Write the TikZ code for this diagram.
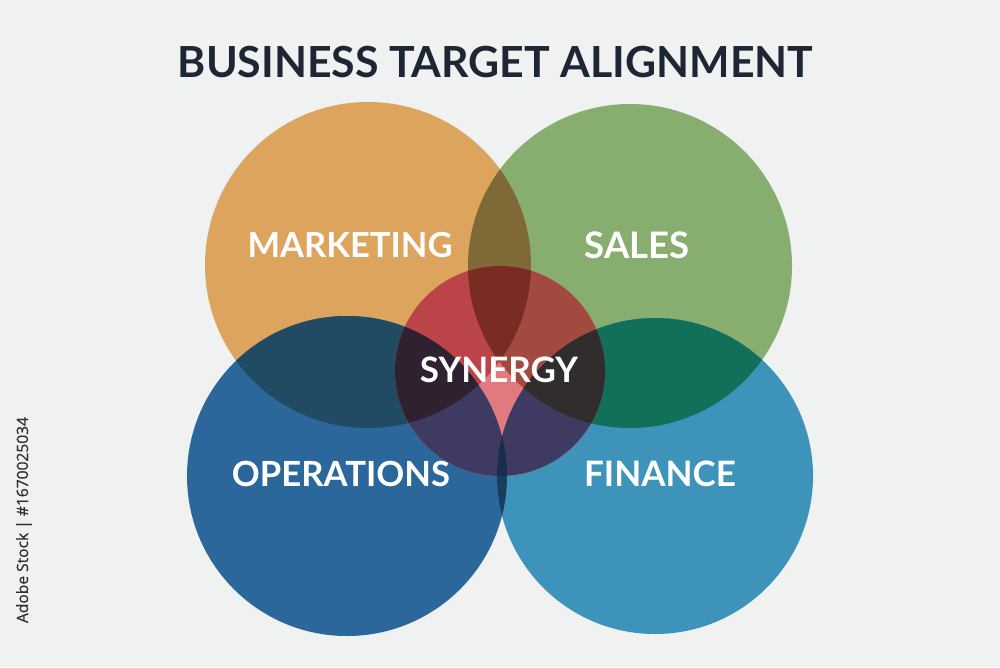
\documentclass[tikz,border=0pt]{standalone}
\usepackage{fontspec}
\setmainfont{Lato}
\newfontfamily\wmfont{Open Sans}
\usepackage{graphicx}
\definecolor{bgc}{HTML}{F0F1F1}
\definecolor{titlec}{HTML}{1D2634}
\definecolor{cM}{HTML}{DDA45D}
\definecolor{cS}{HTML}{87AD6F}
\definecolor{cO}{HTML}{2B679B}
\definecolor{cF}{HTML}{3D93BA}
\definecolor{cMS}{HTML}{7F6A37}
\definecolor{cMO}{HTML}{214B63}
\definecolor{cSF}{HTML}{12705A}
\definecolor{cOF}{HTML}{173E5C}
\definecolor{cY}{HTML}{E07A7E}
\definecolor{cYM}{HTML}{BA4448}
\definecolor{cYS}{HTML}{A24A40}
\definecolor{cYMS}{HTML}{7A2C22}
\definecolor{cYO}{HTML}{3E3A62}
\definecolor{cYF}{HTML}{3E3A62}
\definecolor{cYMO}{HTML}{2F2130}
\definecolor{cYSF}{HTML}{302D2C}
\definecolor{cYOF}{HTML}{1C2C4C}
\definecolor{wmc}{HTML}{2E2E2E}
\begin{document}
\begin{tikzpicture}[x=1pt,y=-1pt,
  lbl/.style={text=white,font=\bfseries,inner sep=0pt,anchor=center}]
\useasboundingbox (0,0) rectangle (1000,667);
\fill[bgc] (0,0) rectangle (1000,667);
\coordinate (mC) at (368,265);
\coordinate (sC) at (630,266);
\coordinate (oC) at (347,476);
\coordinate (fC) at (655,476);
\coordinate (yC) at (500,371);
\def\pM{(mC) circle (163pt)}
\def\pS{(sC) circle (162pt)}
\def\pO{(oC) circle (160pt)}
\def\pF{(fC) circle (158pt)}
\def\pY{(yC) circle (105pt)}
% base circles
\fill[cM] \pM;
\fill[cS] \pS;
\fill[cO] \pO;
\fill[cF] \pF;
% pairwise overlaps
\begin{scope}\clip \pM; \fill[cMS] \pS; \fill[cMO] \pO; \end{scope}
\begin{scope}\clip \pS; \fill[cSF] \pF; \end{scope}
\begin{scope}\clip \pO; \fill[cOF] \pF; \end{scope}
% synergy
\fill[cY] \pY;
\begin{scope}\clip \pY;
  \fill[cYM] \pM; \fill[cYS] \pS; \fill[cYO] \pO; \fill[cYF] \pF;
  \begin{scope}\clip \pM; \fill[cYMS] \pS; \fill[cYMO] \pO; \end{scope}
  \begin{scope}\clip \pS; \fill[cYSF] \pF; \end{scope}
  \begin{scope}\clip \pO; \fill[cYOF] \pF; \end{scope}
\end{scope}
% texts
\node[text=titlec,font=\bfseries,inner sep=0pt] (title) at (495.5,62)
  {\resizebox{635pt}{!}{BUSINESS TARGET ALIGNMENT}};
\node[lbl] (mkt) at (350,245) {\resizebox{205pt}{!}{MARKETING}};
\node[lbl] (sal) at (637,245) {\resizebox{105pt}{!}{SALES}};
\node[lbl] (ops) at (341,474) {\resizebox{218pt}{!}{OPERATIONS}};
\node[lbl] (fin) at (660,474) {\resizebox{152pt}{!}{FINANCE}};
\node[lbl] (syn) at (499,370) {\resizebox{158pt}{!}{SYNERGY}};
\node[text=wmc,inner sep=0pt,rotate=90] (wm) at (24,520)
  {\resizebox{206pt}{!}{\wmfont\addfontfeatures{FakeBold=0.6}Adobe Stock | \#1670025034}};
\end{tikzpicture}
\end{document}
